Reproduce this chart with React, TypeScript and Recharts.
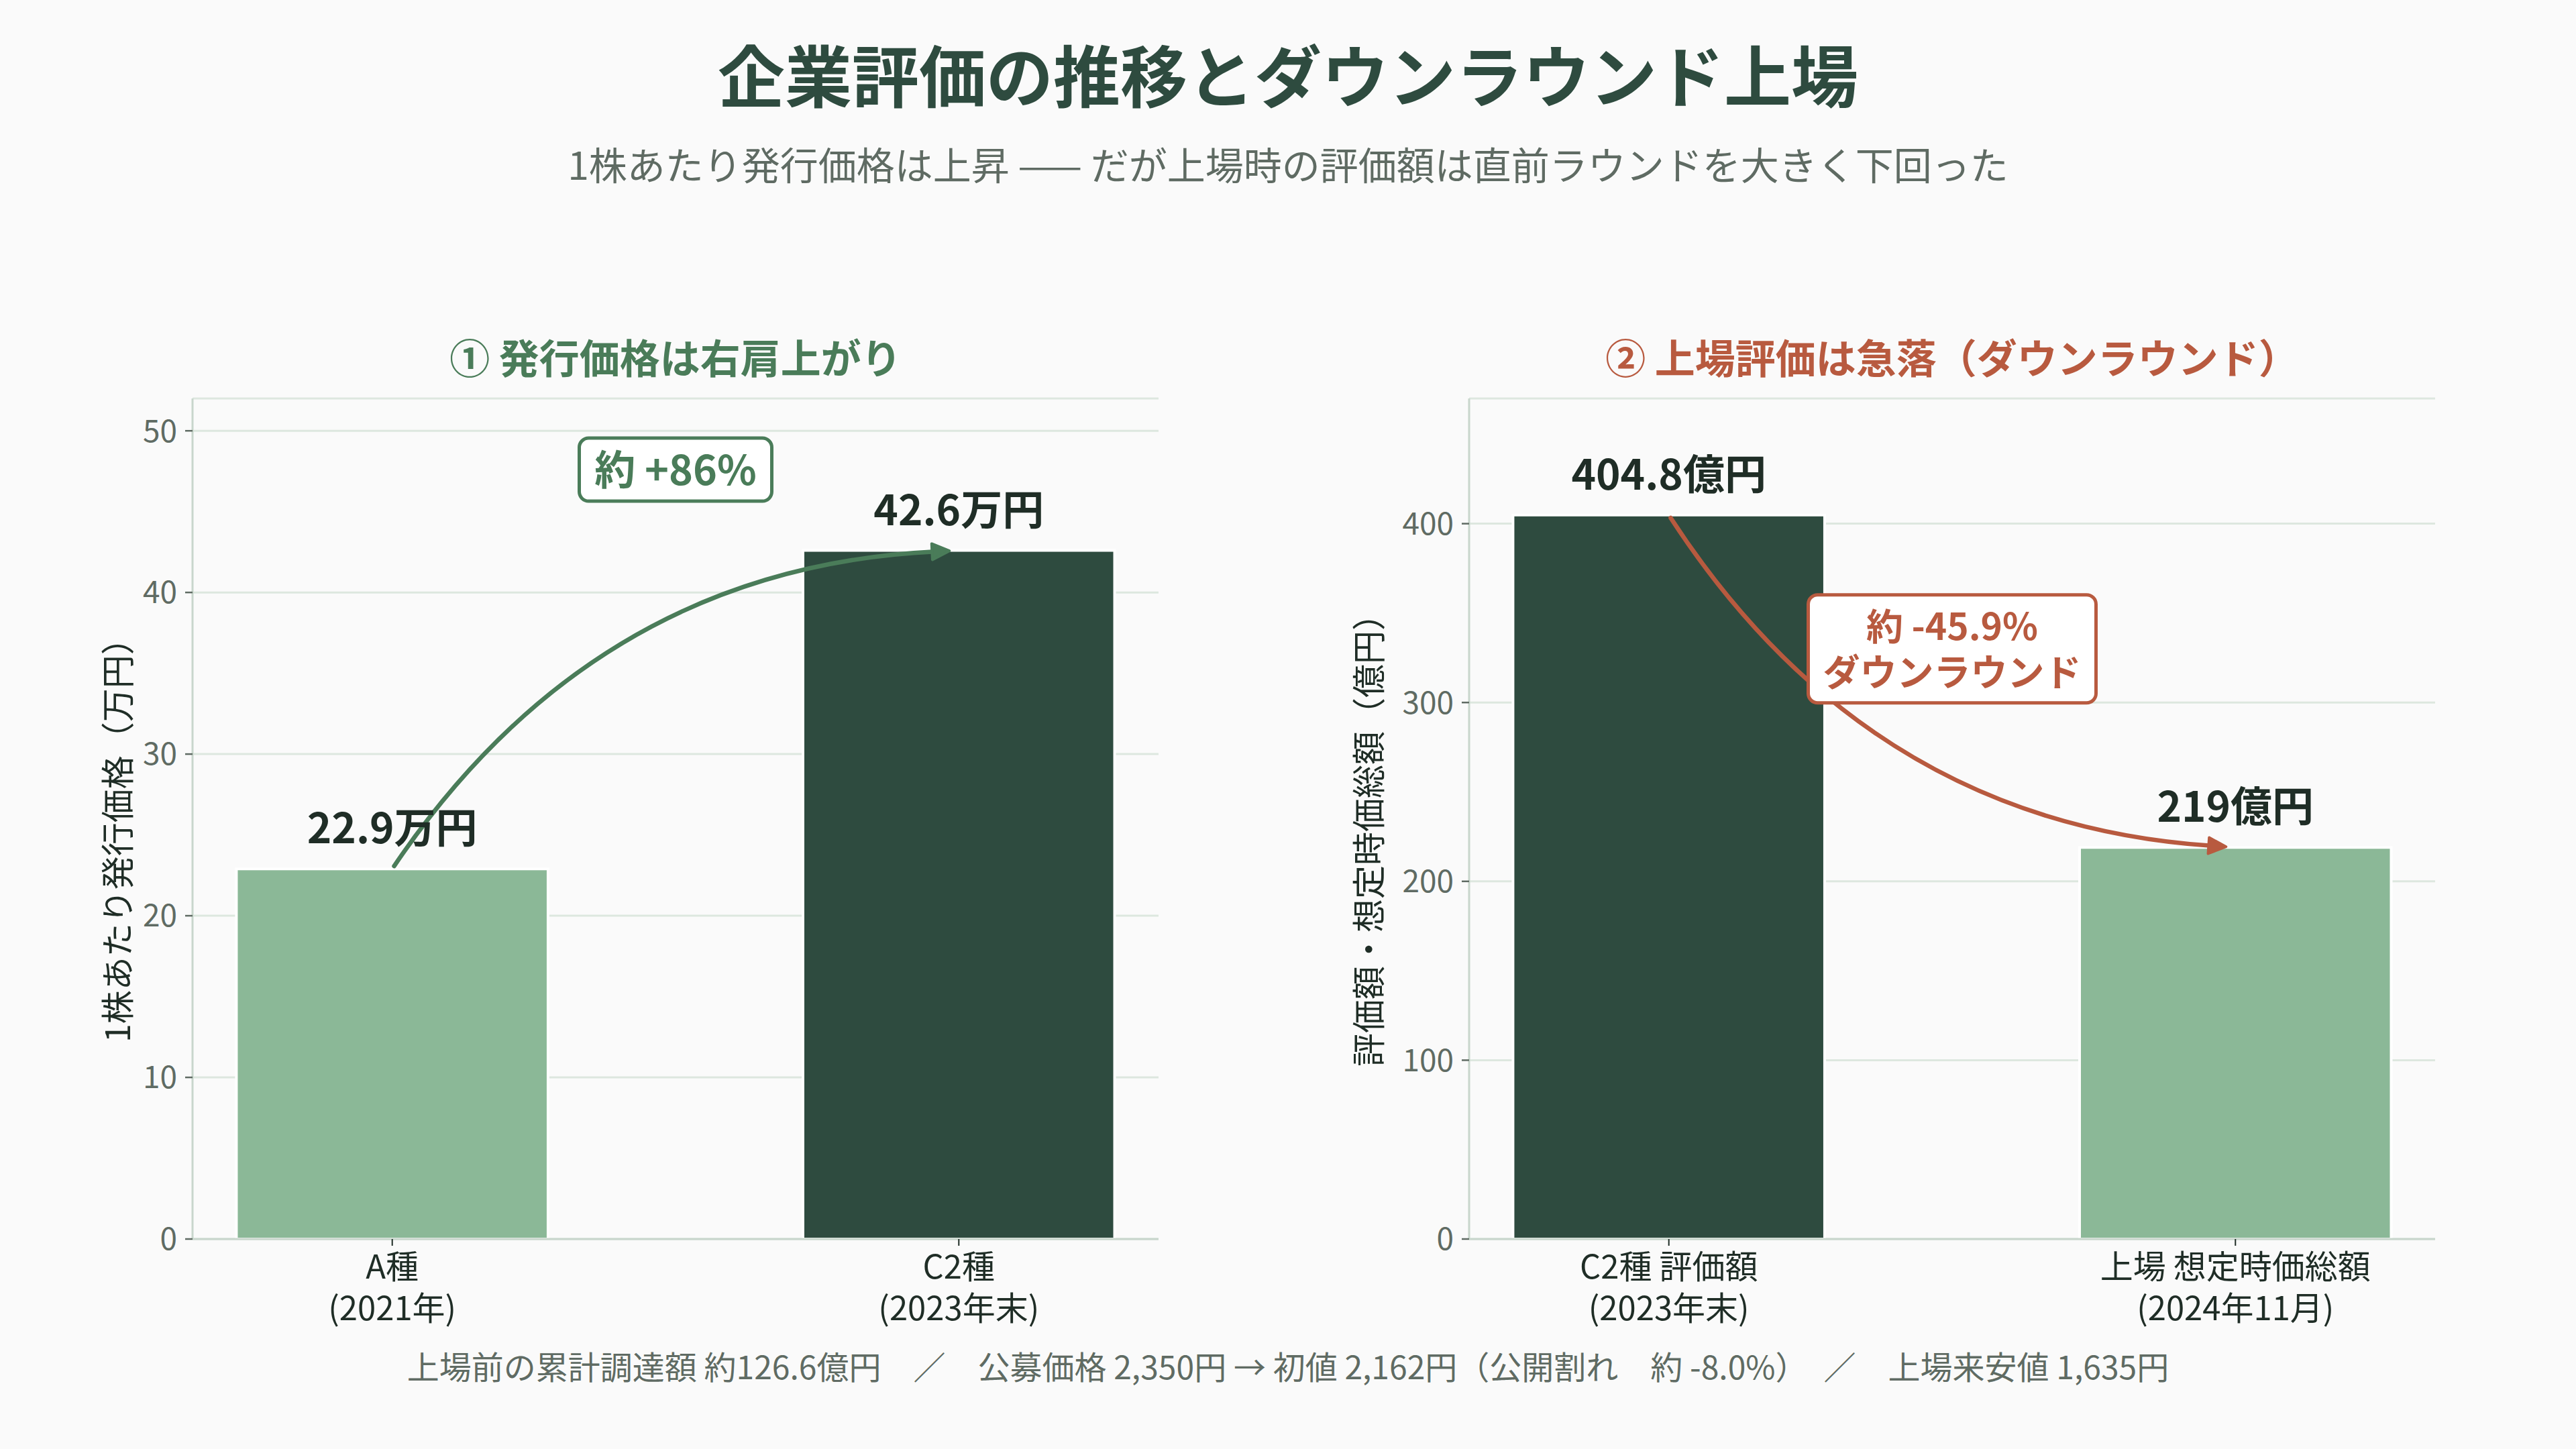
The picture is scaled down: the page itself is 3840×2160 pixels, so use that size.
import React from "react";
import {
  BarChart,
  Bar,
  XAxis,
  YAxis,
  CartesianGrid,
  Cell,
  LabelList,
  ReferenceLine,
  ReferenceDot,
} from "recharts";

const FONT = '"Noto Sans CJK JP", "Noto Sans", sans-serif';

// ① 1株あたり発行価格（万円）
const priceRounds = ["A種", "C2種"];
const priceDates = ["(2021年)", "(2023年末)"];
const priceValues = [22.9, 42.6];
const priceTicks = [0, 10, 20, 30, 40, 50];
const priceMax = 52;

// ② 評価額・想定時価総額（億円）
const valuationNames = ["C2種 評価額", "上場 想定時価総額"];
const valuationDates = ["(2023年末)", "(2024年11月)"];
const valuationValues = [404.8, 219];
const valuationTicks = [0, 100, 200, 300, 400];
const valuationMax = 470;

// height (in data units) of the change callouts
const noteY = [47.6, 330];

const footerItems = [
  "上場前の累計調達額 約126.6億円",
  "公募価格 2,350円 → 初値 2,162円（公開割れ　約 -8.0%）",
  "上場来安値 1,635円",
];

const COLORS = {
  bg: "#fafafa",
  dark: "#2e4b3f",
  light: "#8bb897",
  ink: "#1f2d26",
  sub: "#5f6b63",
  green: "#4a7c59",
  red: "#b85a3f",
  grid: "#dde7df",
  spine: "#c8d6cc",
};

// plot geometry shared by both panels
const CHART_W = 1700;
const CHART_H = 1580;
const CHART_TOP = 480;
const PLOT_W = 1440;
const PLOT_H = 1253;
const Y_AXIS_W = 120;
const X_AXIS_H = 150;
const MARGIN = {
  top: 114,
  left: 67,
  right: CHART_W - 67 - Y_AXIS_W - PLOT_W,
  bottom: CHART_H - 114 - PLOT_H - X_AXIS_H,
};
const X_DOMAIN: [number, number] = [-0.3525, 1.3525];
const BAR_SIZE = (0.55 * PLOT_W) / (X_DOMAIN[1] - X_DOMAIN[0]);

const CategoryTick = (props: any) => {
  const { x, y, payload, names, dates } = props;
  const i = Math.round(payload.value);
  return (
    <g>
      <text x={x} y={y + 49} textAnchor="middle" fill={COLORS.ink} fontSize={49}>
        {names[i]}
      </text>
      <text x={x} y={y + 111} textAnchor="middle" fill={COLORS.ink} fontSize={49}>
        {dates[i]}
      </text>
    </g>
  );
};

const CurvedArrow = (props: any) => {
  const { x1, y1, x2, y2, rad, color } = props;
  if ([x1, y1, x2, y2].some((v) => typeof v !== "number")) return null;
  const dx = x2 - x1;
  const dy = y2 - y1;
  const cx = (x1 + x2) / 2 + rad * dy;
  const cy = (y1 + y2) / 2 - rad * dx;
  const unit = (ax: number, ay: number) => {
    const l = Math.hypot(ax, ay) || 1;
    return [ax / l, ay / l];
  };
  const [sx, sy] = unit(cx - x1, cy - y1);
  const [ex, ey] = unit(x2 - cx, y2 - cy);
  const start = [x1 + sx * 5, y1 + sy * 5];
  const tip = [x2 - ex * 14, y2 - ey * 14];
  const headLen = 26;
  const headHalf = 12;
  const base = [tip[0] - ex * headLen, tip[1] - ey * headLen];
  const nx = -ey;
  const ny = ex;
  const end = [base[0] + ex * 4, base[1] + ey * 4];
  return (
    <g>
      <path
        d={`M${start[0]},${start[1]} Q${cx},${cy} ${end[0]},${end[1]}`}
        fill="none"
        stroke={color}
        strokeWidth={6.5}
        strokeLinecap="round"
      />
      <polygon
        points={`${tip[0]},${tip[1]} ${base[0] + nx * headHalf},${base[1] + ny * headHalf} ${base[0] - nx * headHalf},${base[1] - ny * headHalf}`}
        fill={color}
        stroke={color}
        strokeWidth={4}
        strokeLinejoin="round"
      />
    </g>
  );
};

const NoteBox = (props: any) => {
  const { cx, cy, lines, color, boxW, boxH, fontSize, lineGap } = props;
  if (typeof cx !== "number" || typeof cy !== "number") return null;
  return (
    <g>
      <rect
        x={cx - boxW / 2}
        y={cy - boxH / 2}
        width={boxW}
        height={boxH}
        rx={14}
        fill="#ffffff"
        stroke={color}
        strokeWidth={5}
      />
      {lines.map((t: string, i: number) => (
        <text
          key={i}
          x={cx}
          y={cy + (i - (lines.length - 1) / 2) * lineGap + fontSize * 0.37}
          textAnchor="middle"
          fill={color}
          fontSize={fontSize}
          fontWeight={700}
        >
          {t}
        </text>
      ))}
    </g>
  );
};

const ValueLabel = (props: any) => {
  const vb = props.viewBox ?? props;
  const x = vb.x ?? props.x;
  const y = vb.y ?? props.y;
  const w = vb.width ?? props.width;
  if (typeof x !== "number" || typeof y !== "number") return null;
  return (
    <text
      x={x + w / 2}
      y={y - 38}
      textAnchor="middle"
      fill={COLORS.ink}
      fontSize={62}
      fontWeight={700}
    >
      {`${props.value}${props.unit}`}
    </text>
  );
};

interface PanelProps {
  left: number;
  names: string[];
  dates: string[];
  values: number[];
  ticks: number[];
  max: number;
  fills: string[];
  unit: string;
  accent: string;
  rad: number;
  note: string[];
  noteAt: number;
  boxW: number;
  boxH: number;
  noteFont: number;
}

function Panel(p: PanelProps) {
  const data = p.values.map((v, i) => ({ x: i, value: v, name: p.names[i] }));
  return (
    <div style={{ position: "absolute", left: p.left, top: CHART_TOP }}>
      <BarChart width={CHART_W} height={CHART_H} data={data} margin={MARGIN}>
        <CartesianGrid vertical={false} stroke={COLORS.grid} strokeWidth={3} />
        <XAxis
          type="number"
          dataKey="x"
          domain={X_DOMAIN}
          allowDataOverflow
          ticks={[0, 1]}
          height={X_AXIS_H}
          axisLine={{ stroke: COLORS.spine, strokeWidth: 3 }}
          tickLine={{ stroke: COLORS.ink, strokeWidth: 2 }}
          tickSize={10}
          tickMargin={0}
          tick={<CategoryTick names={p.names} dates={p.dates} />}
        />
        <YAxis
          type="number"
          domain={[0, p.max]}
          allowDataOverflow
          ticks={p.ticks}
          width={Y_AXIS_W}
          axisLine={{ stroke: COLORS.spine, strokeWidth: 3 }}
          tickLine={{ stroke: COLORS.sub, strokeWidth: 2.5 }}
          tickSize={11}
          tickMargin={12}
          tick={{ fill: COLORS.sub, fontSize: 46 }}
        />
        <Bar
          dataKey="value"
          barSize={BAR_SIZE}
          stroke="#ffffff"
          strokeWidth={4}
          isAnimationActive={false}
        >
          {data.map((d, i) => (
            <Cell key={d.name} fill={p.fills[i]} />
          ))}
          <LabelList dataKey="value" content={<ValueLabel unit={p.unit} />} />
        </Bar>
        <ReferenceLine
          segment={[
            { x: 0, y: p.values[0] },
            { x: 1, y: p.values[1] },
          ]}
          ifOverflow="visible"
          shape={(sp: any) => <CurvedArrow {...sp} rad={p.rad} color={p.accent} />}
        />
        <ReferenceDot
          x={0.5}
          y={p.noteAt}
          ifOverflow="visible"
          shape={(sp: any) => (
            <NoteBox
              {...sp}
              lines={p.note}
              color={p.accent}
              boxW={p.boxW}
              boxH={p.boxH}
              fontSize={p.noteFont}
              lineGap={68}
            />
          )}
        />
      </BarChart>
    </div>
  );
}

const centered = (x: number, y: number, extra: React.CSSProperties = {}): React.CSSProperties => ({
  position: "absolute",
  left: x,
  top: y,
  transform: "translate(-50%, -50%)",
  whiteSpace: "nowrap",
  lineHeight: 1,
  ...extra,
});

export default function App() {
  const rise = (priceValues[1] / priceValues[0] - 1) * 100;
  const drop = (valuationValues[1] / valuationValues[0] - 1) * 100;
  const leftPlot = MARGIN.left + Y_AXIS_W;

  return (
    <div
      style={{
        position: "absolute",
        left: 0,
        top: 0,
        width: 3840,
        height: 2160,
        background: COLORS.bg,
        fontFamily: FONT,
        overflow: "hidden",
      }}
    >
      <div style={centered(1920, 109, { fontSize: 100, fontWeight: 700, color: COLORS.dark })}>
        企業評価の推移とダウンラウンド上場
      </div>
      <div style={centered(1920, 243, { fontSize: 57, color: COLORS.sub })}>
        1株あたり発行価格は上昇 —— だが上場時の評価額は直前ラウンドを大きく下回った
      </div>

      <div style={centered(287 + PLOT_W / 2, 531, { fontSize: 60, fontWeight: 700, color: COLORS.green })}>
        ① 発行価格は右肩上がり
      </div>
      <div style={centered(2190 + PLOT_W / 2, 531, { fontSize: 60, fontWeight: 700, color: COLORS.red })}>
        ② 上場評価は急落（ダウンラウンド）
      </div>

      <div
        style={centered(172, 1240, {
          fontSize: 50,
          color: COLORS.ink,
          transform: "translate(-50%, -50%) rotate(-90deg)",
        })}
      >
        1株あたり発行価格（万円）
      </div>
      <div
        style={centered(2037, 1240, {
          fontSize: 50,
          color: COLORS.ink,
          transform: "translate(-50%, -50%) rotate(-90deg)",
        })}
      >
        評価額・想定時価総額（億円）
      </div>

      <Panel
        left={287 - leftPlot}
        names={priceRounds}
        dates={priceDates}
        values={priceValues}
        ticks={priceTicks}
        max={priceMax}
        fills={[COLORS.light, COLORS.dark]}
        unit="万円"
        accent={COLORS.green}
        rad={0.25}
        note={[`約 +${Math.round(rise)}%`]}
        noteAt={noteY[0]}
        boxW={287}
        boxH={94}
        noteFont={61}
      />
      <Panel
        left={2190 - leftPlot}
        names={valuationNames}
        dates={valuationDates}
        values={valuationValues}
        ticks={valuationTicks}
        max={valuationMax}
        fills={[COLORS.dark, COLORS.light]}
        unit="億円"
        accent={COLORS.red}
        rad={-0.25}
        note={[`約 ${drop.toFixed(1)}%`, "ダウンラウンド"]}
        noteAt={noteY[1]}
        boxW={429}
        boxH={161}
        noteFont={55}
      />

      <div style={centered(1920, 2035, { fontSize: 48, color: COLORS.sub })}>
        {footerItems.join("　／　")}
      </div>
    </div>
  );
}
